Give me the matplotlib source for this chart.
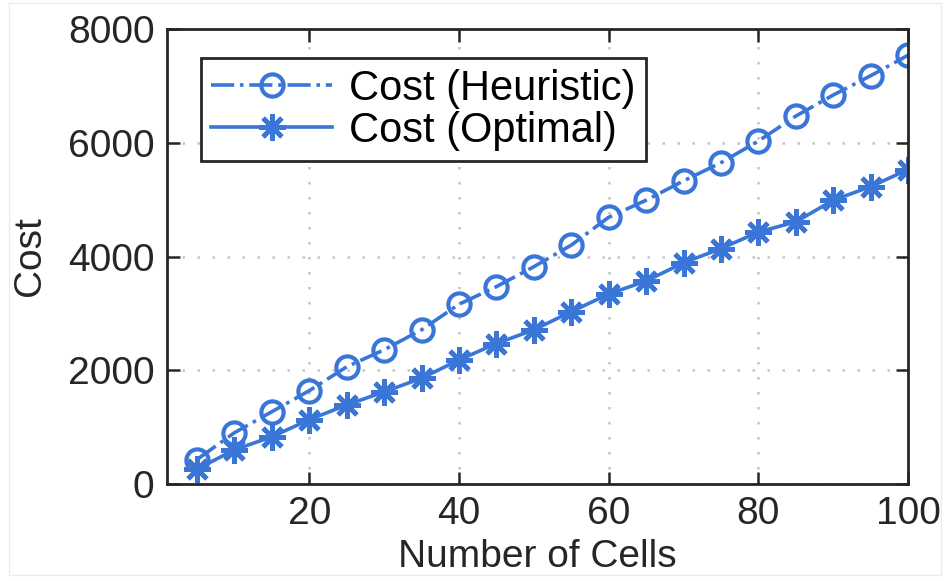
import matplotlib
matplotlib.use("Agg")
import matplotlib.pyplot as plt
from matplotlib.patches import Rectangle

# Number of cells and the resulting costs
cells = [5, 10, 15, 20, 25, 30, 35, 40, 45, 50, 55, 60, 65, 70, 75, 80, 85, 90, 95, 100]
cost_heuristic = [430, 900, 1270, 1640, 2060, 2360, 2710, 3160, 3470, 3820,
                  4200, 4690, 4990, 5330, 5650, 6030, 6470, 6840, 7180, 7540]
cost_optimal = [260, 600, 830, 1130, 1390, 1620, 1860, 2180, 2470, 2710,
                3030, 3340, 3570, 3890, 4140, 4430, 4610, 4990, 5230, 5530]

x_ticks = [20, 40, 60, 80, 100]
y_ticks = [0, 2000, 4000, 6000, 8000]

plt.rcParams['font.family'] = ['Liberation Sans', 'DejaVu Sans']

blue = '#3a75d8'
text_col = '#262626'
fs = 28

fig = plt.figure(figsize=(9.46, 5.81), dpi=100)
ax = fig.add_axes([0.1765, 0.167, 0.7835, 0.783])

star = (8, 2, 0)

ax.plot(cells, cost_heuristic, linestyle='-.', color=blue, lw=2.6,
        marker='o', markersize=16, markerfacecolor='none',
        markeredgewidth=3.0, label='Cost (Heuristic)')
ax.plot(cells, cost_optimal, linestyle='-', color=blue, lw=2.6,
        marker=star, markersize=19, markeredgewidth=3.4,
        label='Cost (Optimal)')

ax.set_xlim(1, 100)
ax.set_ylim(0, 8000)
ax.set_xticks(x_ticks)
ax.set_yticks(y_ticks)

ax.grid(True, linestyle=(0, (1, 5)), color='#c4c4c4', lw=1.8)
ax.tick_params(direction='in', length=9, width=1.8, top=True, right=True,
               labelsize=fs, colors=text_col, pad=9)
for s in ax.spines.values():
    s.set_linewidth(2.0)
    s.set_color(text_col)

ax.set_xlabel('Number of Cells', fontsize=fs, color=text_col, labelpad=5)
ax.set_ylabel('Cost', fontsize=fs, color=text_col, labelpad=14)

leg = ax.legend(loc='upper left', bbox_to_anchor=(0.046, 0.936),
                borderaxespad=0, fontsize=30, handlelength=2.9,
                handletextpad=0.4, labelspacing=0.05, borderpad=0.25,
                fancybox=False, framealpha=1.0, edgecolor=text_col)
leg.get_frame().set_linewidth(2.0)
for t in leg.get_texts():
    t.set_color('black')

# faint outer border
fig.patches.append(Rectangle((0.01, 0.01), 0.985, 0.985, transform=fig.transFigure,
                             fill=False, edgecolor='#ececec', lw=1.0))

fig.savefig('out.png', dpi=100)
